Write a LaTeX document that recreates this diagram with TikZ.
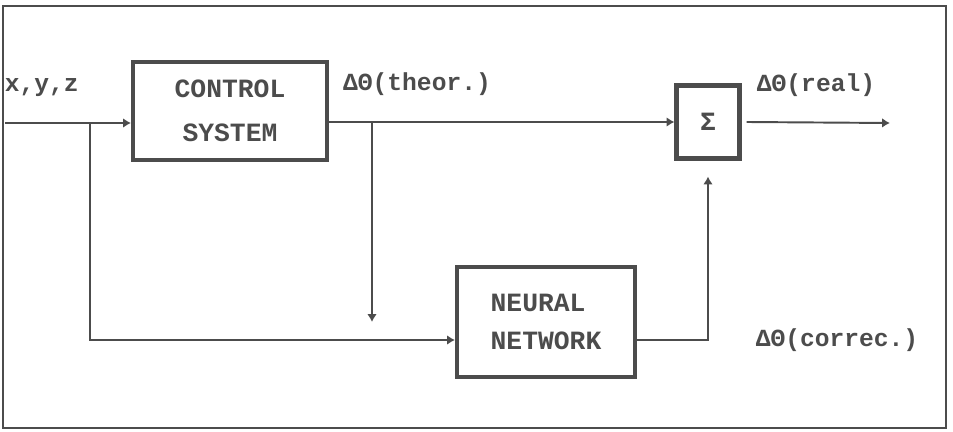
\documentclass[tikz,border=0pt]{standalone}
\usepackage{fontspec}
\setmonofont{Liberation Mono}
\usepackage{tikz}
\usepackage{xcolor}
\usetikzlibrary{arrows.meta, calc, positioning}

\definecolor{ink}{gray}{0.3}

\begin{document}
\begin{tikzpicture}[x=0.02cm, y=-0.02cm, line width=1.1pt, draw=ink,
    block/.style={draw=ink, line width=2.3pt, inner sep=0pt, font=\ttfamily\bfseries\fontsize{15}{22}\selectfont, text=ink},
    lbl/.style={font=\ttfamily\bfseries\fontsize{14}{17}\selectfont, text=ink, inner sep=0pt},
    flow/.style={-{Latex[length=4.5pt,width=5.5pt]}, ink}]
    \useasboundingbox (0,0) rectangle (953,432);
    \draw[ink] (3,6) rectangle (946,428);

    % blocks
    \node[block, minimum width=3.88cm, minimum height=1.96cm, align=center] (ctrl) at (230,111) {CONTROL\\[0.1cm]SYSTEM};
    \node[block, minimum width=1.26cm, minimum height=1.46cm] (sum) at (708,122) {Σ};
    \node[block, minimum width=3.56cm, minimum height=2.2cm, align=left] (nn) at (546,322) {NEURAL\\NETWORK};

    % labels
    \node[lbl, anchor=west] (xyz) at (4,88) {x,y,z};
    \node[lbl] (theor) at (417,84) {ΔΘ(theor.)};
    \node[lbl] (real) at (816,85) {ΔΘ(real)};
    \node[lbl] (correc) at (837,340) {ΔΘ(correc.)};

    % connectors
    \coordinate (in) at (5,123);
    \coordinate (b1) at (90,123);
    \coordinate (b2) at (372,123);
    \coordinate (t2) at (372,322);
    \coordinate (out) at (890,123);
    \draw[flow] (in) -- (in -| ctrl.west);
    \draw[flow] (b1) |- ([yshift=-0.36cm]nn.west);
    \draw[flow] (sum.west -| ctrl.east) -- (sum.west);
    \draw[flow] (b2) -- (t2);
    \draw[flow] ([yshift=-0.36cm]nn.east) -| ([yshift=-0.32cm]sum.south);
    \draw[flow] ([xshift=0.1cm]sum.east) -- (out);
\end{tikzpicture}
\end{document}
